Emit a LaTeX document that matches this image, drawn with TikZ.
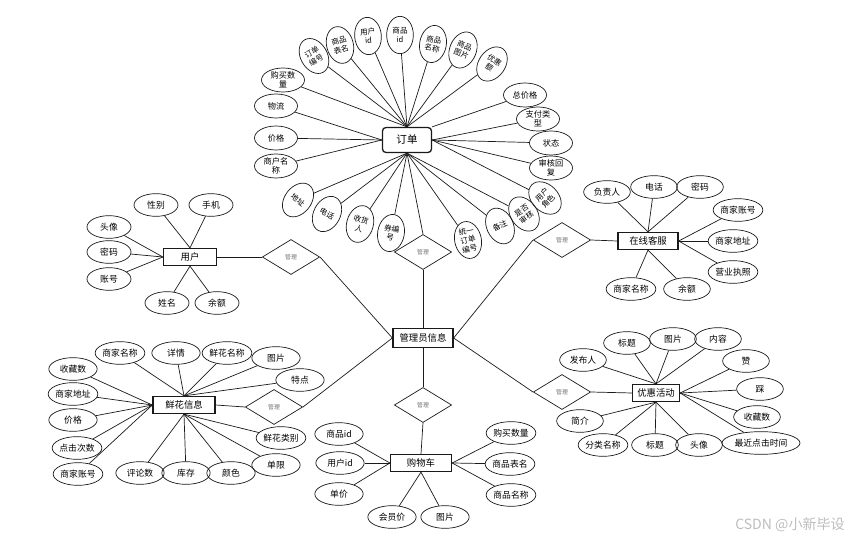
\documentclass[tikz,border=0pt]{standalone}
\usepackage{fontspec}
\setmainfont{Noto Sans CJK SC}
\usetikzlibrary{shapes.geometric,positioning}
\definecolor{InkGray}{HTML}{1A1A1A}
\definecolor{RelGray}{HTML}{707070}
\definecolor{MarkGray}{HTML}{BDBDBD}

\begin{document}
\begin{tikzpicture}[x=0.03cm,y=-0.03cm,line width=0.6pt,draw=InkGray,
  every node/.style={font=\fontsize{7.5}{8.5}\selectfont},
  attr/.style={draw,ellipse,minimum width=1.32cm,minimum height=0.68cm,inner sep=0pt,align=center},
  tilt/.style={draw,ellipse,minimum width=0.8cm,minimum height=1.12cm,inner sep=0pt,align=center,
               font=\fontsize{6.5}{7.5}\selectfont},
  entity/.style={draw,line width=1.1pt,minimum height=0.51cm,inner sep=1pt,font=\fontsize{8}{9}\selectfont},
  rel/.style={draw,diamond,minimum width=1.72cm,minimum height=1.05cm,inner sep=0pt,
              font=\fontsize{5}{6}\selectfont,text=RelGray}]
\useasboundingbox (0,0) rectangle (859,540);

% entities
\node[entity,rounded corners=3pt,minimum width=1.47cm,minimum height=0.75cm,font=\fontsize{9}{10}\selectfont] (order) at (407,140) {订单};
\node[entity,minimum width=1.59cm] (user) at (190,257) {用户};
\node[entity,minimum width=1.8cm] (service) at (648,241) {在线客服};
\node[entity,minimum width=1.8cm,minimum height=0.57cm] (admin) at (423,338) {管理员信息};
\node[entity,minimum width=1.86cm] (flower) at (184,405) {鲜花信息};
\node[entity,minimum width=1.83cm] (cart) at (421,463) {购物车};
\node[entity,minimum width=1.41cm] (promo) at (656,393) {优惠活动};

% relations
\node[rel] (mOrder) at (423,252) {管理};
\node[rel] (mUser) at (291,257) {管理};
\node[rel] (mService) at (562,240) {管理};
\node[rel] (mFlower) at (274,407) {管理};
\node[rel] (mCart) at (423,405) {管理};
\node[rel] (mPromo) at (562,392) {管理};

\draw (order.south) -- (mOrder.north);
\draw (mOrder.south) -- (admin.north);
\draw (user.east) -- (mUser.west);
\draw (mUser.east) -- (admin.west);
\draw (flower.east) -- (mFlower.west);
\draw (mFlower.east) -- (admin.west);
\draw (service.west) -- (mService.east);
\draw (mService.west) -- (admin.east);
\draw (promo.west) -- (mPromo.east);
\draw (mPromo.west) -- (admin.east);
\draw (admin.south) -- (mCart.north);
\draw (mCart.south) -- (cart.north);

% order attributes
\foreach \x/\y/\r/\t [count=\i] in {314/56/30/{订单\\编号},340/45/15/{商品\\表名},368/36/5/{用户\\id},
    400/35/0/{商品\\id},433/44/-10/{商品\\名称},463/50/-22/{商品\\图片},492/64/-35/{优惠\\额}}
  {\node[tilt,rotate=\r] (ot\i) at (\x,\y) {\t};
   \draw (ot\i) -- (order.north);}
\foreach \x/\y/\r/\t/\a [count=\i] in {298/200/-38/{地址}/south,327/214/-28/{电话}/south,360/224/-15/{收货\\人}/south,
    391/233/-10/{券编\\号}/south,468/240/12/{统一\\订单\\编号}/south,500/226/25/{备注}/south,
    524/214/35/{是否\\审核}/south,545/198/45/{用户\\角色}/east}
  {\node[tilt,rotate=\r] (ob\i) at (\x,\y) {\t};
   \draw (ob\i) -- (order.\a);}
\foreach \x/\y/\t/\a [count=\i] in {283/80/{购买数\\量}/north,276/106/{物流}/west,276/138/{价格}/west,
    276/166/{商户名\\称}/west,525/95/{总价格}/north east,538/119/{支付类\\型}/east,
    551/143/{状态}/east,551/168/{审核回\\复}/east}
  {\node[attr,minimum width=1.29cm,minimum height=0.72cm,font=\fontsize{7}{8}\selectfont] (oa\i) at (\x,\y) {\t};
   \draw (oa\i) -- (order.\a);}

% user attributes
\foreach \x/\y/\t/\a [count=\i] in {156/205/性别/north,211/205/手机/north,109/227/头像/west,
    109/252/密码/west,109/279/账号/west,167/303/姓名/south,217/303/余额/south}
  {\node[attr] (ua\i) at (\x,\y) {\t};
   \draw (ua\i) -- (user.\a);}

% service attributes
\foreach \x/\y/\t/\a [count=\i] in {607/192/负责人/north,654/187/电话/north,700/187/密码/north,
    738/210/商家账号/east,733/241/商家地址/east,733/272/营业执照/east,631/289/商家名称/south,687/289/余额/south}
  {\node[attr,minimum width=1.4cm] (sa\i) at (\x,\y) {\t};
   \draw (sa\i) -- (service.\a);}

% flower attributes
\foreach \x/\y/\t/\a [count=\i] in {73/369/收藏数/west,73/394/商家地址/west,73/420/价格/west,
    77/448/点击次数/west,78/474/商家账号/west,120/353/商家名称/north,176/353/详情/north,
    227/353/鲜花名称/north,276/358/图片/north,300/380/特点/north,140/473/评论数/south,
    186/473/库存/south,231/473/颜色/south,281/438/鲜花类别/south,276/465/单限/south}
  {\node[attr,minimum width=1.45cm] (fa\i) at (\x,\y) {\t};
   \draw (fa\i) -- (flower.\a);}

% cart attributes
\foreach \x/\y/\t/\a [count=\i] in {339/434/商品id/west,340/463/用户id/west,339/494/单价/west,
    392/517/会员价/south,445/517/图片/south,511/433/购买数量/east,510/464/商品表名/east,511/495/商品名称/east}
  {\node[attr,minimum width=1.45cm] (ca\i) at (\x,\y) {\t};
   \draw (ca\i) -- (cart.\a);}

% promo attributes
\foreach \x/\y/\t/\a [count=\i] in {583/360/发布人/north,627/343/标题/north,673/339/图片/north,
    718/339/内容/north,746/361/赞/east,760/389/踩/east,757/417/收藏数/east,
    580/421/简介/south,603/445/分类名称/south,655/445/标题/south,699/445/头像/south}
  {\node[attr,minimum width=1.4cm] (pa\i) at (\x,\y) {\t};
   \draw (pa\i) -- (promo.\a);}
\node[attr,minimum width=2.34cm] (pLast) at (761,443) {最近点击时间};
\draw (pLast) -- (promo.east);

\node[font=\fontsize{12}{14}\selectfont,text=MarkGray] (mark) at (790,525) {CSDN @小新毕设};
\end{tikzpicture}
\end{document}
